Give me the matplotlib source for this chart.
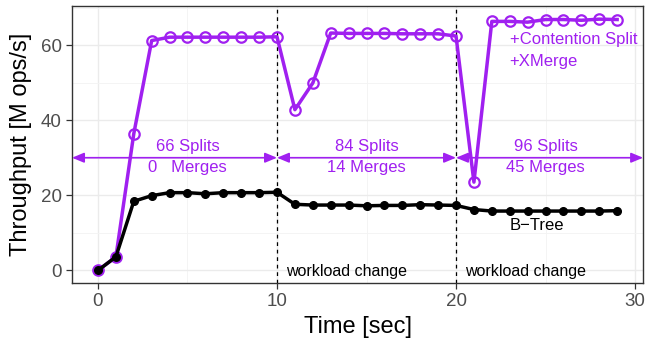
import matplotlib
matplotlib.use("Agg")
import matplotlib.pyplot as plt
from matplotlib.ticker import MultipleLocator

plt.rcParams['font.family'] = ['Liberation Sans', 'DejaVu Sans']

time = list(range(30))
xmerge = [0, 3.6, 36.4, 61.2, 62.1, 62.1, 62.1, 62.1, 62.1, 62.1, 62.2,
          42.8, 49.9, 63.2, 63.1, 63.1, 63.1, 63.0, 63.0, 63.0, 62.4,
          23.5, 66.3, 66.3, 66.1, 66.8, 66.8, 66.6, 66.9, 66.8]
btree = [0, 3.6, 18.4, 19.9, 20.7, 20.7, 20.4, 20.7, 20.7, 20.7, 20.8,
         17.6, 17.4, 17.4, 17.4, 17.2, 17.3, 17.3, 17.5, 17.4, 17.3,
         16.2, 15.8, 15.8, 15.8, 15.8, 15.8, 15.8, 15.8, 15.9]
change_times = [10, 20]
phase_bounds = [(-1.45, 10), (10, 20), (20, 30.45)]
phase_centers = [5, 15, 25]
splits_labels = ["66 Splits", "84 Splits", "96 Splits"]
merges_labels = ["0   Merges", "14 Merges", "45 Merges"]

PURPLE = "#A020F0"

fig = plt.figure(figsize=(6.46, 3.43), dpi=100)
ax = fig.add_axes([0.1115, 0.175, 0.884, 0.8075])

ax.set_xlim(-1.45, 30.45)
ax.set_ylim(-3.35, 70.4)
ax.xaxis.set_major_locator(MultipleLocator(10))
ax.xaxis.set_minor_locator(MultipleLocator(5))
ax.yaxis.set_major_locator(MultipleLocator(20))
ax.yaxis.set_minor_locator(MultipleLocator(10))
ax.grid(True, which="major", color="#EBEBEB", lw=1.0)
ax.grid(True, which="minor", color="#F3F3F3", lw=0.6)
ax.set_axisbelow(True)
for s in ax.spines.values():
    s.set_color("#333333")
    s.set_linewidth(1.0)
ax.tick_params(which="major", length=4, color="#333333", labelsize=13.5, labelcolor="#4D4D4D", width=0.9)
ax.tick_params(which="minor", length=0)

for t in change_times:
    ax.axvline(t, color="black", ls=(0, (3, 3)), lw=0.9, zorder=2)

ax.plot(time, xmerge, color=PURPLE, lw=2.5, marker="o", ms=7.5, mfc="none",
        mec=PURPLE, mew=1.6, zorder=3)
ax.plot(time, btree, color="black", lw=2.5, marker="o", ms=5.5, zorder=4)

for (a, b), c, s1, s2 in zip(phase_bounds, phase_centers, splits_labels, merges_labels):
    ax.annotate("", xy=(a, 30), xytext=(b, 30),
                arrowprops=dict(arrowstyle="<|-|>,head_length=0.6,head_width=0.25",
                                color=PURPLE, lw=1.2,
                                mutation_scale=12, shrinkA=0, shrinkB=0))
    ax.text(c, 32.9, s1, color=PURPLE, fontsize=12, ha="center", va="center")
    ax.text(c, 27.4, s2, color=PURPLE, fontsize=12, ha="center", va="center")

ax.text(23.0, 61.6, "+Contention Split", color=PURPLE, fontsize=12, ha="left", va="center")
ax.text(23.0, 55.7, "+XMerge", color=PURPLE, fontsize=12, ha="left", va="center")
ax.text(24.5, 12.0, "B\u2212Tree", color="black", fontsize=12, ha="center", va="center")
for t in change_times:
    ax.text(t + 0.5, -0.3, "workload change", color="black", fontsize=11.5, ha="left", va="center")

ax.set_xlabel("Time [sec]", fontsize=17, labelpad=4)
ax.set_ylabel("Throughput [M ops/s]", fontsize=17, labelpad=6)

fig.savefig("out.png", dpi=100)
